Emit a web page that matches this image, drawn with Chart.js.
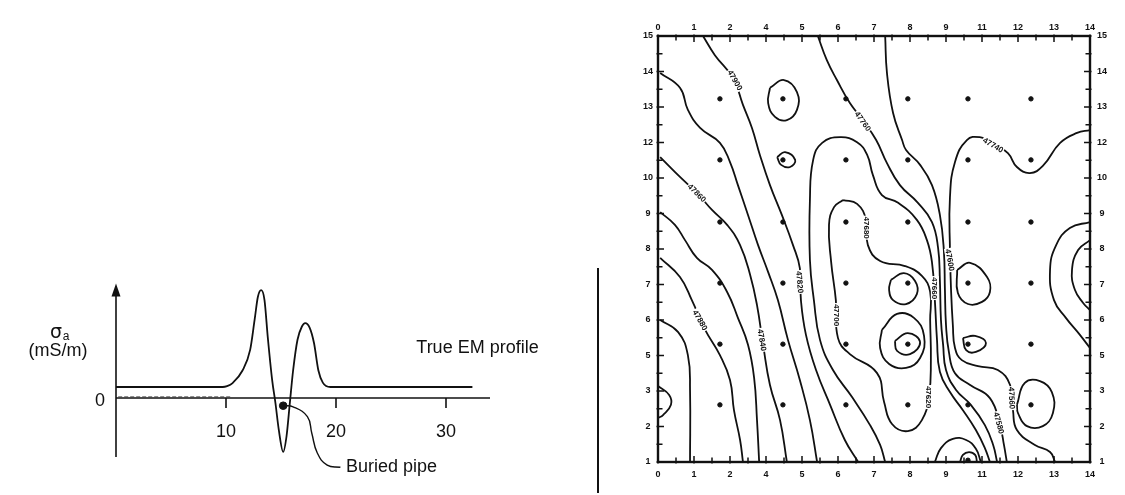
<!DOCTYPE html>
<html>
<head>
<meta charset="utf-8">
<script src="https://cdn.jsdelivr.net/npm/chart.js@4.4.1/dist/chart.umd.min.js"></script>
<style>
html,body{margin:0;padding:0;background:#fff;}
body{width:1125px;height:495px;position:relative;overflow:hidden;}
#perfil{position:absolute;left:0;top:270px;width:598px;height:225px;}
#mapa{position:absolute;left:600px;top:0;width:525px;height:495px;}
#divisor{position:absolute;left:597px;top:268px;width:2px;height:225px;background:#111;}
</style>
</head>
<body>

<canvas id="perfil" width="598" height="225"></canvas>
<div id="divisor"></div>
<canvas id="mapa" width="525" height="495"></canvas>

<script>
// ==========================
// DADOS - PERFIL EM
// ==========================
const perfilX = [0, 9.7, 10.1, 10.6, 11.5, 12.2, 12.6, 12.9, 13.2, 13.5, 13.8, 14.2, 14.5, 14.8, 15.2, 15.5, 15.8, 16.1, 16.5, 16.9, 17.2, 17.6, 18.0, 18.4, 18.8, 19.5, 32.4];
const perfilY = [1, 1, 1.08, 1.36, 2.5, 4.4, 7.1, 9.2, 9.8, 8.9, 5.5, 1.6, -0.5, -2.9, -4.9, -3.5, -0.5, 2.5, 5.3, 6.5, 6.8, 6.4, 5.0, 2.5, 1.4, 1.0, 1.0];

const tracejadoX = [0.2, 10.4];
const tracejadoY = [0.12, 0.12];

const caboX = [15.2, 16.1, 17.4, 17.8, 18.3, 19.2, 20.4];
const caboY = [-0.7, -0.8, -1.7, -3.2, -5.0, -6.1, -6.3];

const tuboX = [15.2];
const tuboY = [-0.7];

const ticksPerfil = [10, 20, 30];

// ==========================
// DADOS - MAPA
// ==========================
const rotulosX = ["0","1","2","4","5","6","7","8","9","11","12","13","14"];
const rotulosY = ["1","2","3","5","6","7","8","9","10","12","13","14","15"];

const colunasGrade = [1.72, 3.47, 5.22, 6.94, 8.61, 10.36];
const linhasGrade = [10.23, 8.51, 6.76, 5.04, 3.32, 1.61];

const curvaF = [[0.06,4.0],[0.56,3.66],[0.83,3.01],[0.89,2.03],[0.89,0]];
const curvaE = [[0.06,5.75],[0.61,5.21],[0.94,4.56],[1.31,3.72],[1.72,3.01],[2.0,2.31],[2.11,1.46],[2.28,0.62],[2.36,0]];
const curvaD = [[0.06,7.04],[0.47,6.68],[0.75,6.25],[1.08,5.75],[1.5,5.41],[1.92,4.79],[2.22,4.06],[2.5,3.3],[2.67,2.37],[2.75,1.18],[2.81,0]];
const curvaC = [[0.06,8.59],[0.61,8.03],[1.08,7.58],[1.5,7.1],[1.92,6.68],[2.28,6.11],[2.56,5.27],[2.75,4.42],[2.92,3.3],[3.11,2.17],[3.39,1.18],[3.58,0]];
const curvaA = [[0.06,10.96],[0.61,10.54],[0.83,9.92],[1.17,9.41],[1.72,8.99],[2.0,8.45],[2.22,7.8],[2.5,6.96],[2.78,6.11],[3.06,5.35],[3.33,4.56],[3.61,3.44],[3.94,2.31],[4.22,1.18],[4.42,0]];
const curvaB = [[1.25,12],[1.58,11.46],[2.08,10.82],[2.36,10.06],[2.61,9.41],[2.83,8.65],[3.11,7.8],[3.44,6.96],[3.75,6.11],[3.94,5.46],[3.97,4.56],[4.11,3.58],[4.39,2.59],[4.78,1.61],[5.19,0.62],[5.56,0]];
const curvaU = [[6.31,0],[6.17,0.48],[5.89,1.04],[5.39,1.83],[4.86,2.59],[4.5,3.44],[4.33,4.56],[4.22,5.69],[4.22,7.38],[4.31,8.51],[4.56,8.99],[5.06,9.15],[5.53,9.01],[5.81,8.65],[5.97,8.08],[6.22,7.52],[6.67,7.3],[7.19,6.82],[7.47,6.25],[7.61,5.63],[7.69,4.56],[7.75,3.44],[7.83,2.54],[8.11,1.97],[8.47,1.46],[8.83,0.9],[9.08,0.39],[9.22,0]];
const curvaInterna = [[5.14,7.38],[5.53,7.27],[5.78,6.82],[5.83,6.11],[6.17,5.66],[6.86,5.52],[7.33,5.24],[7.56,4.79],[7.56,4.0],[7.58,2.87],[7.53,1.89],[7.33,1.18],[6.94,0.87],[6.5,1.07],[6.28,1.69],[6.08,2.51],[5.33,3.04],[5.0,3.49],[4.94,4.56],[4.81,5.63],[4.75,6.68],[4.89,7.18],[5.14,7.38]];
const curvaTopo1 = [[4.44,12],[4.69,11.32],[4.97,10.76],[5.33,10.11],[5.69,9.63],[6.06,9.07],[6.36,8.42],[6.72,7.8],[7.22,7.3],[7.61,6.76],[7.78,6.03],[7.83,5.13],[7.86,4.0],[7.92,3.3],[8.0,2.59],[8.28,2.03],[8.69,1.61],[9.08,1.04],[9.31,0.48],[9.42,0]];
const curvaTopo2 = [[6.31,12],[6.36,10.96],[6.53,9.83],[6.78,9.07],[6.89,8.79],[7.28,8.37],[7.61,7.8],[7.83,6.96],[7.94,5.97],[7.97,4.85],[8.0,3.86],[8.08,3.1],[8.25,2.5],[8.67,2.17],[9.22,1.8],[9.5,1.04],[9.61,0.48],[9.69,0]];
const curvaDireita = [[12,9.35],[11.64,9.27],[11.17,8.99],[10.69,8.34],[10.33,8.14],[9.97,8.31],[9.72,8.7],[9.31,8.99],[8.94,9.15],[8.58,9.07],[8.25,8.45],[8.11,7.46],[8.11,5.97],[8.14,4.85],[8.19,3.86],[8.25,3.21],[8.44,2.87],[8.89,2.7],[9.44,2.59],[9.78,2.17],[9.86,1.46],[9.97,0.9],[10.47,0.48],[10.89,0.28],[11.03,0]];
const arcoBordaExt = [[12,6.76],[11.44,6.59],[11.06,6.11],[10.89,5.41],[11.0,4.56],[11.33,4.06],[11.72,3.58],[12,3.21]];
const arcoBordaInt = [[12,6.25],[11.67,5.97],[11.5,5.41],[11.58,4.85],[11.81,4.48],[12,4.28]];
const arcoEsquerda = [[0,2.14],[0.31,1.89],[0.36,1.61],[0.14,1.32],[0,1.24]];
const arcoBase = [[7.69,0],[7.86,0.39],[8.19,0.65],[8.56,0.62],[8.83,0.37],[8.97,0]];
const arcoBasePequeno = [[8.39,0],[8.47,0.2],[8.64,0.28],[8.81,0.2],[8.86,0]];
const laco13 = [[3.11,10.54],[3.5,10.76],[3.86,10.42],[3.86,9.92],[3.58,9.63],[3.25,9.72],[3.06,10.11],[3.11,10.54]];
const laco11 = [[3.31,8.59],[3.53,8.73],[3.81,8.51],[3.67,8.31],[3.42,8.37],[3.31,8.59]];
const laco7a = [[6.47,5.13],[6.83,5.32],[7.14,5.1],[7.19,4.73],[6.89,4.45],[6.53,4.56],[6.42,4.85],[6.47,5.13]];
const laco5ext = [[6.22,3.72],[6.64,4.17],[7.11,4.06],[7.39,3.55],[7.28,2.93],[6.89,2.65],[6.42,2.76],[6.17,3.21],[6.22,3.72]];
const laco5int = [[6.58,3.41],[6.94,3.63],[7.28,3.38],[7.0,3.04],[6.64,3.13],[6.58,3.41]];
const laco9a = [[8.31,5.41],[8.67,5.61],[9.14,5.21],[9.22,4.79],[9.0,4.51],[8.61,4.45],[8.33,4.76],[8.31,5.41]];
const laco9b = [[8.47,3.49],[8.81,3.55],[9.11,3.35],[8.83,3.1],[8.56,3.15],[8.47,3.49]];
const laco11b = [[9.97,1.61],[10.19,2.23],[10.61,2.28],[10.94,1.97],[10.97,1.38],[10.69,1.01],[10.25,1.01],[10.0,1.38],[9.97,1.61]];

const rotuloCurvaPos = [[2.14,10.76],[1.08,7.58],[5.69,9.6],[9.31,8.93],[3.94,5.07],[2.89,3.44],[1.17,4.0],[4.97,4.14],[5.81,6.6],[7.53,1.83],[8.11,5.69],[7.69,4.9],[9.83,1.8],[9.47,1.1]];
const rotuloCurvaAng = [60, 45, 55, 30, 85, 80, 60, 90, 90, 90, 80, 90, 88, 75];
const rotuloCurvaTxt = ["47900","47860","47760","47740","47820","47840","47880","47700","47680","47620","47600","47660","47560","47580"];

// ==========================
// GRAFICO PERFIL
// ==========================
const eixosPerfil = {

    id: "eixosPerfil",

    afterDatasetsDraw(chart){

        const {ctx, scales:{x, y}} = chart;

        const x0 = x.getPixelForValue(0);
        const y0 = y.getPixelForValue(0);

        ctx.save();

        ctx.strokeStyle = "#111";
        ctx.fillStyle = "#111";
        ctx.lineWidth = 1.6;

        // eixo x
        ctx.beginPath();
        ctx.moveTo(x0, y0);
        ctx.lineTo(x.getPixelForValue(34), y0);
        ctx.stroke();

        // eixo y com seta
        const yTopo = y.getPixelForValue(10.4);
        ctx.beginPath();
        ctx.moveTo(x0, y.getPixelForValue(-5.36));
        ctx.lineTo(x0, yTopo + 8);
        ctx.stroke();

        ctx.beginPath();
        ctx.moveTo(x0, yTopo);
        ctx.lineTo(x0 - 4.5, yTopo + 13);
        ctx.lineTo(x0 + 4.5, yTopo + 13);
        ctx.closePath();
        ctx.fill();

        // ticks
        ctx.font = '18px "Liberation Sans", Arial, sans-serif';
        ctx.textAlign = "center";
        ctx.textBaseline = "middle";

        ticksPerfil.forEach(v => {
            const px = x.getPixelForValue(v);
            ctx.beginPath();
            ctx.moveTo(px, y0);
            ctx.lineTo(px, y0 + 10);
            ctx.stroke();
            ctx.fillText(String(v), px, y0 + 34);
        });

        ctx.fillText("0", x0 - 16, y0 + 3);

        // rotulo do eixo
        ctx.fillText("(mS/m)", x0 - 58, y.getPixelForValue(4.3));
        ctx.font = '19px "DejaVu Sans", sans-serif';
        ctx.fillText("σ", x0 - 60, y.getPixelForValue(5.9));
        ctx.font = '12px "Liberation Sans", Arial, sans-serif';
        ctx.fillText("a", x0 - 50, y.getPixelForValue(5.55));

        // textos
        ctx.font = '18px "Liberation Sans", Arial, sans-serif';
        ctx.textAlign = "left";
        ctx.fillText("True EM profile", x.getPixelForValue(27.3), y.getPixelForValue(4.55));
        ctx.fillText("Buried pipe", x.getPixelForValue(20.9), y.getPixelForValue(-6.3));

        ctx.restore();
    }
};

new Chart(document.getElementById("perfil"), {

    type: "scatter",

    data: {
        datasets: [
            {
                data: perfilX.map((v, i) => ({x: v, y: perfilY[i]})),
                showLine: true,
                borderColor: "#111",
                borderWidth: 1.8,
                pointRadius: 0,
                cubicInterpolationMode: "monotone"
            },
            {
                data: tracejadoX.map((v, i) => ({x: v, y: tracejadoY[i]})),
                showLine: true,
                borderColor: "#777",
                borderWidth: 1,
                borderDash: [4, 2],
                pointRadius: 0
            },
            {
                data: caboX.map((v, i) => ({x: v, y: caboY[i]})),
                showLine: true,
                borderColor: "#111",
                borderWidth: 1.4,
                pointRadius: 0,
                tension: 0.45
            },
            {
                data: tuboX.map((v, i) => ({x: v, y: tuboY[i]})),
                pointRadius: 3.8,
                pointBackgroundColor: "#111",
                pointBorderColor: "#111"
            }
        ]
    },

    options: {
        responsive: false,
        animation: false,
        devicePixelRatio: 1,
        layout: {padding: {left: 116, right: 108, top: 12.5, bottom: 20}},
        scales: {
            x: {type: "linear", min: 0, max: 34, display: false},
            y: {type: "linear", min: -7, max: 10.5, display: false}
        },
        plugins: {legend: {display: false}, tooltip: {enabled: false}}
    },

    plugins: [eixosPerfil]
});

// ==========================
// GRAFICO MAPA
// ==========================
const todasCurvas = [
    curvaF, curvaE, curvaD, curvaC, curvaA, curvaB, curvaU, curvaInterna,
    curvaTopo1, curvaTopo2, curvaDireita, arcoBordaExt, arcoBordaInt,
    arcoEsquerda, arcoBase, arcoBasePequeno, laco13, laco11, laco7a,
    laco5ext, laco5int, laco9a, laco9b, laco11b
];

const pontosGrade = [];
colunasGrade.forEach(cx => {
    linhasGrade.forEach(ly => pontosGrade.push({x: cx, y: ly}));
});
pontosGrade.push({x: 8.61, y: 0.05});

const moldura = {

    id: "moldura",

    afterDatasetsDraw(chart){

        const {ctx, chartArea: a, scales:{x, y}} = chart;

        ctx.save();

        ctx.strokeStyle = "#111";
        ctx.lineWidth = 2.4;
        ctx.strokeRect(a.left, a.top, a.right - a.left, a.bottom - a.top);

        // ticks internos
        ctx.lineWidth = 1.5;
        for(let v = 0; v <= 12; v += 0.5){
            const px = x.getPixelForValue(v);
            const py = y.getPixelForValue(v);
            const t = Number.isInteger(v) ? 6 : 4.5;
            ctx.beginPath();
            ctx.moveTo(px, a.top - 1.5);    ctx.lineTo(px, a.top + t);
            ctx.moveTo(px, a.bottom + 1.5); ctx.lineTo(px, a.bottom - t);
            ctx.moveTo(a.left - 1.5, py);   ctx.lineTo(a.left + t, py);
            ctx.moveTo(a.right + 1.5, py);  ctx.lineTo(a.right - t, py);
            ctx.stroke();
        }

        ctx.fillStyle = "#111";
        ctx.font = 'bold 9px "Liberation Sans", Arial, sans-serif';
        ctx.textAlign = "center";
        ctx.textBaseline = "middle";

        rotulosX.forEach((t, i) => {
            const px = x.getPixelForValue(i);
            ctx.fillText(t, px, a.top - 8);
            ctx.fillText(t, px, a.bottom + 13);
        });

        rotulosY.forEach((t, i) => {
            const py = y.getPixelForValue(i);
            ctx.fillText(t, a.left - 10, py);
            ctx.fillText(t, a.right + 12, py);
        });

        // rotulos das curvas
        ctx.font = 'bold 8px "Liberation Sans", Arial, sans-serif';
        rotuloCurvaPos.forEach((p, i) => {
            ctx.save();
            ctx.translate(x.getPixelForValue(p[0]), y.getPixelForValue(p[1]));
            ctx.rotate(rotuloCurvaAng[i] * Math.PI / 180);
            ctx.fillStyle = "#fff";
            ctx.fillRect(-12, -4, 24, 8);
            ctx.fillStyle = "#111";
            ctx.fillText(rotuloCurvaTxt[i], 0, 0.5);
            ctx.restore();
        });

        ctx.restore();
    }
};

new Chart(document.getElementById("mapa"), {

    type: "scatter",

    data: {
        datasets: [
            ...todasCurvas.map(c => ({
                data: c.map(p => ({x: p[0], y: p[1]})),
                showLine: true,
                borderColor: "#111",
                borderWidth: 1.8,
                pointRadius: 0,
                tension: 0.45,
                clip: 2
            })),
            {
                data: pontosGrade,
                pointRadius: 2.2,
                pointBackgroundColor: "#111",
                pointBorderColor: "#111"
            }
        ]
    },

    options: {
        responsive: false,
        animation: false,
        devicePixelRatio: 1,
        layout: {padding: {left: 58, right: 35, top: 36, bottom: 33}},
        scales: {
            x: {type: "linear", min: 0, max: 12, display: false},
            y: {type: "linear", min: 0, max: 12, display: false}
        },
        plugins: {legend: {display: false}, tooltip: {enabled: false}}
    },

    plugins: [moldura]
});
</script>
</body>
</html>
